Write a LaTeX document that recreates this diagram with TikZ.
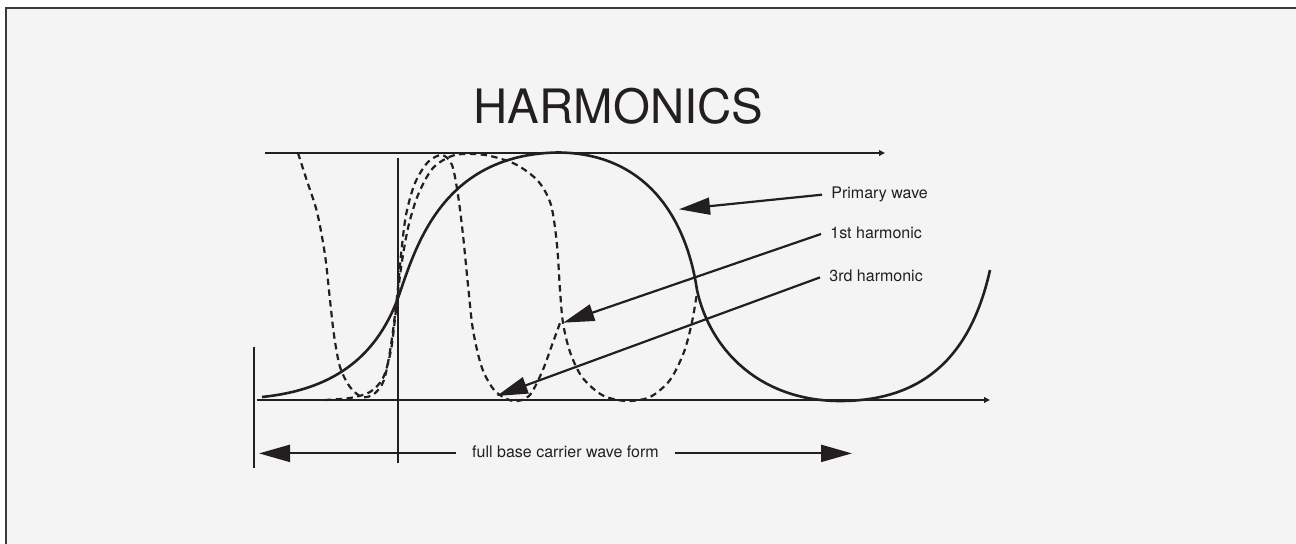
\documentclass[tikz,border=0pt]{standalone}
\usepackage{fontspec}
\setmainfont{TeX Gyre Heros}
\usetikzlibrary{arrows.meta,positioning}
\definecolor{hink}{HTML}{231F20}
\definecolor{hpaper}{HTML}{F4F4F4}
\definecolor{hframe}{HTML}{3A3A3A}

\begin{document}
\begin{tikzpicture}[
  x=0.5pt,y=-0.5pt,
  axis/.style={line width=1.1pt,color=hink,-{Triangle[length=3pt,width=2.8pt]}},
  rule/.style={line width=1.1pt,color=hink},
  wave/.style={line width=1.3pt,color=hink},
  harm/.style={line width=1.1pt,color=hink,dash pattern=on 3.2pt off 2.2pt},
  callout/.style={line width=1.1pt,color=hink,-{Triangle[length=15.5pt,width=8.5pt]}},
  lbl/.style={inner xsep=4.5pt,inner ysep=0pt,text height=6pt,text depth=1.7pt,
              font=\fontsize{8}{9}\selectfont,text=hink,anchor=base west}
]
\useasboundingbox (0,0) rectangle (1296,544);
\fill[white] (0,0) rectangle (1296,544);
\fill[hpaper] (6,8) rectangle (1296,544);
\draw[hframe,line width=1.25pt] (6,544) -- (6,8) -- (1296,8);

\node[font=\fontsize{23.7}{28}\selectfont,text=hink,anchor=base,inner sep=0pt] (title) at (618.5,124) {HARMONICS};

\coordinate (topL) at (265,153);
\coordinate (topR) at (885,153);
\coordinate (baseAxL) at (257,400);
\coordinate (baseAxR) at (990,400);
\draw[axis] (topL) -- (topR);
\draw[axis] (baseAxL) -- (baseAxR);

\coordinate (barTop) at (254,347);
\coordinate (barBot) at (254,468);
\coordinate (midTop) at (398,158);
\coordinate (midBot) at (398,463);
\draw[rule] (barTop) -- (barBot);
\draw[rule] (midTop) -- (midBot);

\draw[wave] (262,397) .. controls (330,390) and (375,360) .. (398,298)
  .. controls (415,250) and (440,155) .. (557,152.5)
  .. controls (640,152.5) and (685,210) .. (697,290)
  .. controls (710,350) and (760,401) .. (840,401)
  .. controls (920,401) and (970,360) .. (990,270);

\draw[harm] plot[smooth,tension=0.5] coordinates {
  (298,153) (306,178) (317,212) (325,255) (330,300) (334,335)
  (340,367) (350,387) (362,397) (374,394) (384,380) (391,345)
  (397,297) (401,255) (406,215) (415,183) (428,162) (442,155)
  (452,165) (458,195) (463,235) (468,285) (473,330) (482,368)
  (495,391) (513,401) (529,396) (542,372) (552,345) (560,323)};

\draw[harm] plot[smooth,tension=0.5] coordinates {
  (325,400) (350,398) (370,392) (383,378) (391,350) (396,310)
  (401,268) (408,228) (418,195) (433,168) (455,155) (485,155)
  (515,164) (538,181) (551,205) (557,245) (560,290) (563,323)
  (570,352) (582,377) (602,395) (626,401) (650,397) (670,380)
  (684,352) (692,322) (697,293)};

\node[lbl] (lblPrimary) at (822,199) {Primary wave};
\node[lbl] (lblFirst) at (821,238.3) {1st harmonic};
\node[lbl] (lblThird) at (820,281.7) {3rd harmonic};
\coordinate (tipPrimary) at (679,209.3);
\coordinate (tipFirst) at (563.3,322.7);
\coordinate (tipThird) at (496.7,396);
\draw[callout] (lblPrimary.west) -- (tipPrimary);
\draw[callout] (lblFirst.west) -- (tipFirst);
\draw[callout] (lblThird.west) -- (tipThird);

\node[lbl,anchor=base,inner xsep=8pt] (lblBase) at (565.5,457.7) {full base carrier wave form};
\coordinate (baseL) at (259,452);
\coordinate (baseR) at (852,452);
\draw[callout] (lblBase.west) -- (lblBase.west -| baseL);
\draw[callout] (lblBase.east) -- (lblBase.east -| baseR);
\end{tikzpicture}
\end{document}
